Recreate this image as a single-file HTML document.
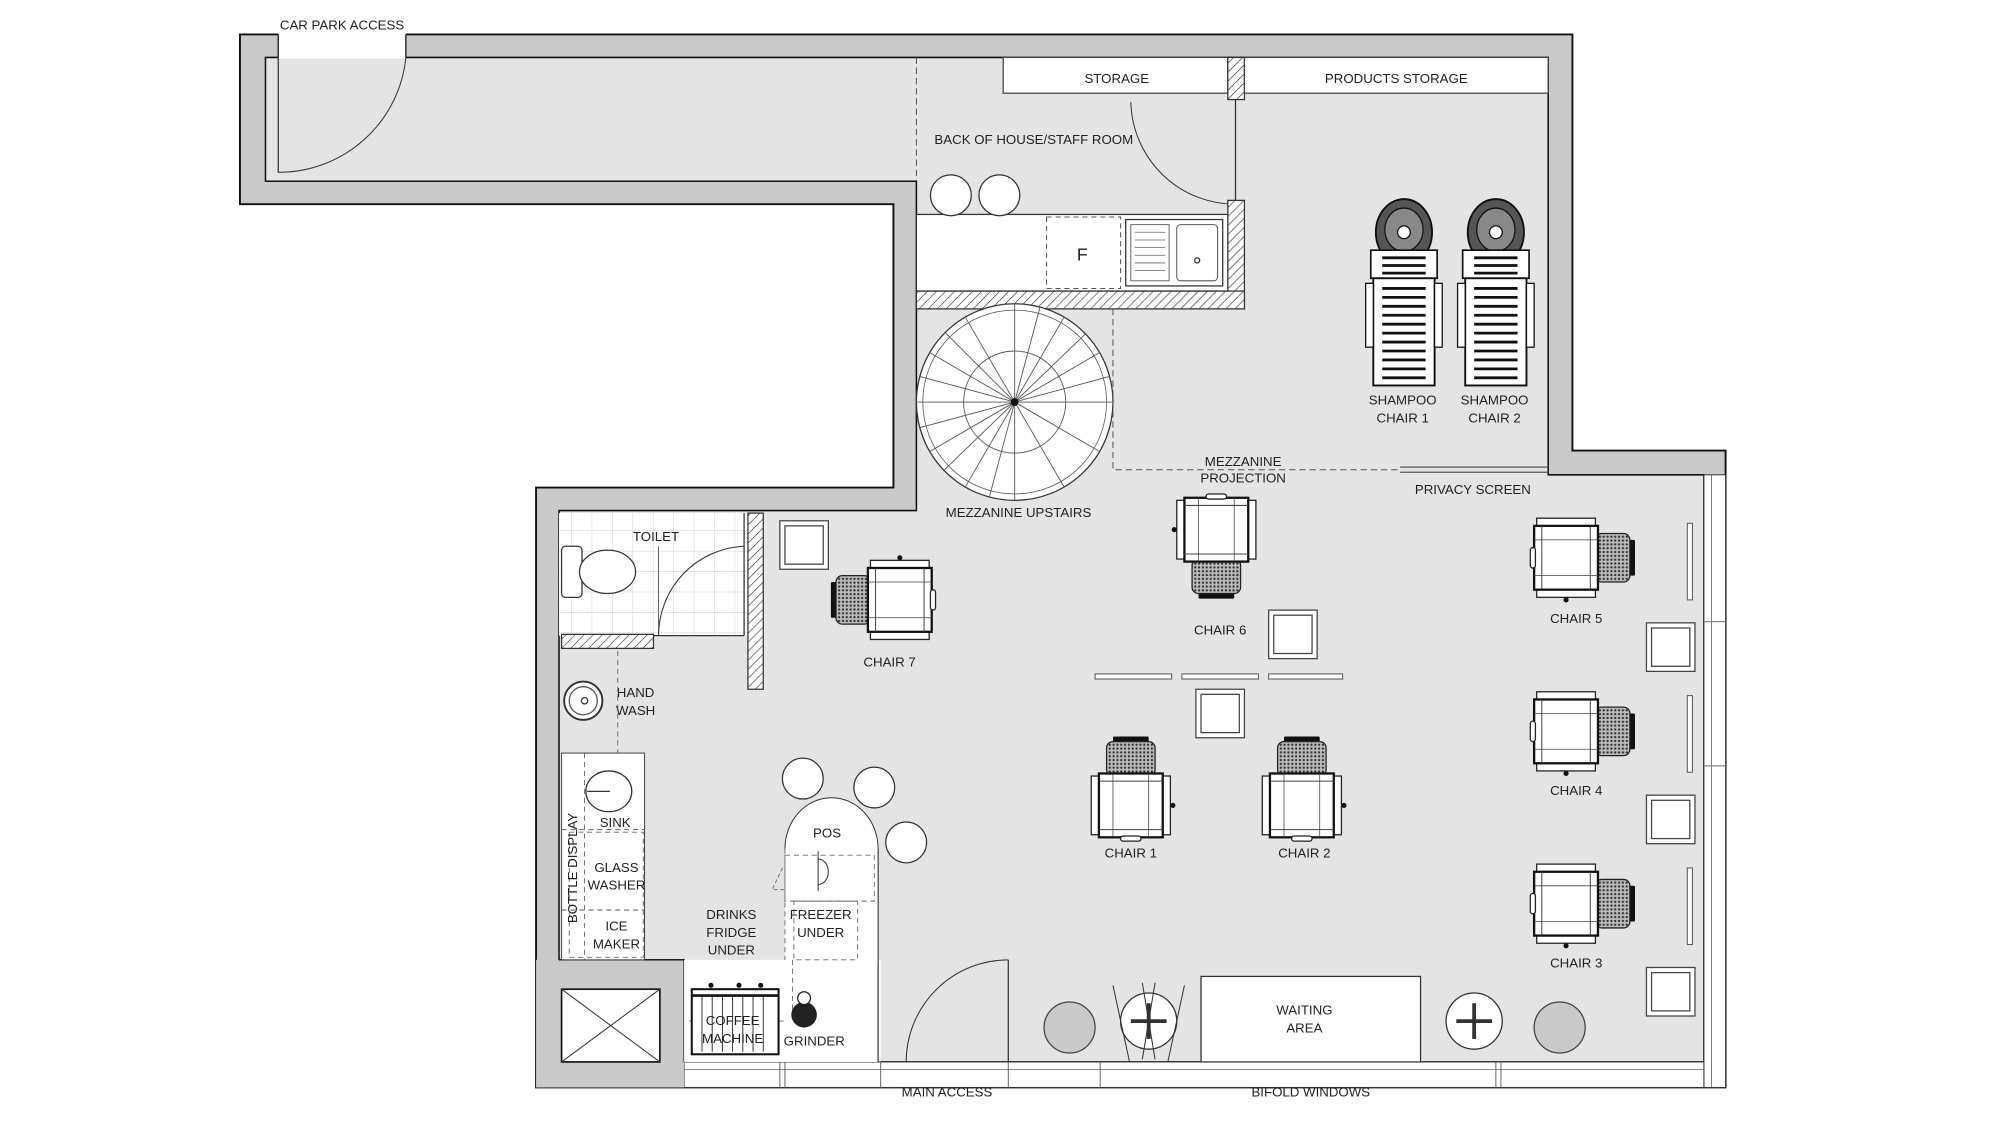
<!DOCTYPE html>
<html><head><meta charset="utf-8"><style>
html,body{margin:0;padding:0;background:#fff;}
svg{display:block;}
text{font-family:"Liberation Sans",sans-serif;font-size:10.4px;fill:#222;text-anchor:middle;}
</style></head><body>
<svg width="2000" height="1125" viewBox="0 0 1567 881.4" preserveAspectRatio="none" xmlns="http://www.w3.org/2000/svg">
<defs>
<pattern id="hatch" width="5" height="5" patternUnits="userSpaceOnUse" patternTransform="rotate(45)">
<rect width="5" height="5" fill="#fff"/><line x1="0" y1="0" x2="0" y2="5" stroke="#333" stroke-width="1"/></pattern>
<pattern id="mesh" width="3" height="3" patternUnits="userSpaceOnUse">
<rect width="3" height="3" fill="#bbb"/><circle cx="1.5" cy="1.5" r="0.9" fill="#333"/></pattern>
<pattern id="tile" width="16" height="16" patternUnits="userSpaceOnUse">
<rect width="16" height="16" fill="#fff"/><path d="M16 0V16H0" fill="none" stroke="#ccc" stroke-width="0.7"/></pattern>
<g id="chair">
<rect x="-14" y="-41" width="28" height="5" rx="1" fill="#111"/>
<rect x="-19" y="-37" width="38" height="27" rx="5" fill="url(#mesh)" stroke="#222" stroke-width="1"/>
<rect x="-31" y="-10" width="8" height="46" fill="#fff" stroke="#222" stroke-width="1"/>
<rect x="23" y="-10" width="8" height="46" fill="#fff" stroke="#222" stroke-width="1"/>
<rect x="-25" y="-12" width="50" height="50" fill="#fff" stroke="#111" stroke-width="1.8"/>
<line x1="-25" y1="-6" x2="25" y2="-6" stroke="#444" stroke-width="0.8"/>
<line x1="-25" y1="32" x2="25" y2="32" stroke="#444" stroke-width="0.8"/>
<line x1="-14" y1="-12" x2="-14" y2="38" stroke="#444" stroke-width="0.6"/>
<line x1="14" y1="-12" x2="14" y2="38" stroke="#444" stroke-width="0.6"/>
<rect x="-8" y="37" width="16" height="4" rx="2" fill="#fff" stroke="#222"/>
<circle cx="33" cy="13" r="2" fill="#111"/>
</g>
<g id="shampoo">
<ellipse cx="0" cy="0" rx="22" ry="26" fill="#555" stroke="#111" stroke-width="1.5"/>
<ellipse cx="0" cy="-2" rx="15" ry="17" fill="#888" stroke="#111"/>
<circle cx="0" cy="0" r="5" fill="#fff" stroke="#111"/>
<rect x="-26" y="14" width="52" height="22" fill="#fff" stroke="#111" stroke-width="1.3"/>
<rect x="-24" y="36" width="48" height="84" fill="#fff" stroke="#111" stroke-width="1.5"/>
<rect x="-30" y="40" width="6" height="50" fill="#fff" stroke="#111"/>
<rect x="24" y="40" width="6" height="50" fill="#fff" stroke="#111"/>
<g stroke="#111" stroke-width="2.2">
<line x1="-17" y1="20" x2="17" y2="20"/><line x1="-17" y1="26" x2="17" y2="26"/><line x1="-17" y1="32" x2="17" y2="32"/>
<line x1="-17" y1="44" x2="17" y2="44"/><line x1="-17" y1="51" x2="17" y2="51"/><line x1="-17" y1="58" x2="17" y2="58"/>
<line x1="-17" y1="65" x2="17" y2="65"/><line x1="-17" y1="72" x2="17" y2="72"/><line x1="-17" y1="79" x2="17" y2="79"/>
<line x1="-17" y1="86" x2="17" y2="86"/><line x1="-17" y1="93" x2="17" y2="93"/><line x1="-17" y1="100" x2="17" y2="100"/>
<line x1="-17" y1="107" x2="17" y2="107"/><line x1="-17" y1="114" x2="17" y2="114"/>
</g>
</g>
<g id="sqtable">
<rect x="0" y="0" width="38" height="38" fill="#fff" stroke="#444" stroke-width="1"/>
<rect x="4" y="4" width="30" height="30" fill="#fff" stroke="#444" stroke-width="1"/>
</g>
</defs>

<rect width="1567" height="881.4" fill="#fff"/>
<polygon points="188,27 1232,27 1232,353 1352,353 1352,852 420,852 420,382 700,382 700,160 188,160" fill="#c9c9c9" stroke="#111" stroke-width="1.5"/>
<polygon points="208,45 1213,45 1213,372 1335,372 1335,832 536,832 536,752 438,752 438,400 718,400 718,142 208,142" fill="#e4e4e4" stroke="#111" stroke-width="1.2"/>
<rect x="218" y="26" width="100" height="20" fill="#fff"/>
<line x1="218" y1="27" x2="218" y2="45" stroke="#111"/><line x1="318" y1="27" x2="318" y2="45" stroke="#111"/>
<path d="M318 45 A100 100 0 0 1 218 135" fill="none" stroke="#333" stroke-width="0.8"/>
<line x1="218" y1="45" x2="218" y2="135" stroke="#333" stroke-width="1"/>
<rect x="1335" y="372" width="17" height="480" fill="#fff" stroke="#333" stroke-width="0.8"/>
<line x1="1341" y1="372" x2="1341" y2="852" stroke="#555" stroke-width="0.6"/>
<line x1="1335" y1="487" x2="1352" y2="487" stroke="#888"/><line x1="1335" y1="600" x2="1352" y2="600" stroke="#888"/>
<rect x="536" y="832" width="799" height="20" fill="#fff" stroke="#333" stroke-width="0.8"/>
<line x1="536" y1="838" x2="1335" y2="838" stroke="#666" stroke-width="0.6"/>
<g stroke="#666" stroke-width="0.8">
<line x1="611" y1="832" x2="611" y2="852"/><line x1="615" y1="832" x2="615" y2="852"/>
<line x1="690" y1="832" x2="690" y2="852"/><line x1="790" y1="832" x2="790" y2="852"/>
<line x1="862" y1="832" x2="862" y2="852"/><line x1="1172" y1="832" x2="1172" y2="852"/><line x1="1176" y1="832" x2="1176" y2="852"/>
</g>
<rect x="420" y="752" width="116" height="100" fill="#c9c9c9"/>
<line x1="438" y1="752" x2="536" y2="752" stroke="#111"/><line x1="536" y1="752" x2="536" y2="832" stroke="#111"/>
<rect x="440" y="775" width="77" height="57" fill="#fff" stroke="#111" stroke-width="1.3"/>
<line x1="440" y1="775" x2="517" y2="832" stroke="#333" stroke-width="0.8"/><line x1="517" y1="775" x2="440" y2="832" stroke="#333" stroke-width="0.8"/>

<rect x="786" y="45" width="176" height="28" fill="#fff" stroke="#444"/>
<rect x="962" y="45" width="13" height="33" fill="url(#hatch)" stroke="#333"/>
<rect x="975" y="45" width="238" height="28" fill="#fff" stroke="#444"/>
<text x="875" y="65">STORAGE</text>
<text x="1094" y="65">PRODUCTS STORAGE</text>
<line x1="718" y1="45" x2="718" y2="142" stroke="#555" stroke-dasharray="5,3" stroke-width="0.8"/>
<text x="810" y="113">BACK OF HOUSE/STAFF ROOM</text>
<line x1="968" y1="78" x2="968" y2="160" stroke="#333"/>
<path d="M886 80 A82 82 0 0 0 968 160" fill="none" stroke="#333" stroke-width="0.8"/>
<rect x="962" y="157" width="13" height="85" fill="url(#hatch)" stroke="#333"/>
<rect x="718" y="228" width="257" height="14" fill="url(#hatch)" stroke="#333"/>
<rect x="718" y="168" width="244" height="60" fill="#fff" stroke="#333"/>
<rect x="820" y="170" width="58" height="56" fill="none" stroke="#555" stroke-dasharray="4,3" stroke-width="0.8"/>
<text x="848" y="204" style="font-size:14px">F</text>
<rect x="882" y="172" width="76" height="52" fill="#fff" stroke="#333"/>
<rect x="886" y="176" width="30" height="44" fill="#fff" stroke="#555" stroke-width="0.7"/>
<g stroke="#666" stroke-width="0.6"><line x1="889" y1="182" x2="913" y2="182"/><line x1="889" y1="188" x2="913" y2="188"/><line x1="889" y1="194" x2="913" y2="194"/><line x1="889" y1="200" x2="913" y2="200"/><line x1="889" y1="206" x2="913" y2="206"/><line x1="889" y1="212" x2="913" y2="212"/></g>
<rect x="922" y="176" width="32" height="44" rx="3" fill="#fff" stroke="#555" stroke-width="0.8"/>
<circle cx="938" cy="204" r="2" fill="none" stroke="#333"/>
<circle cx="745" cy="153" r="16" fill="#fff" stroke="#333"/>
<circle cx="783" cy="153" r="16" fill="#fff" stroke="#333"/>
<circle cx="795" cy="315" r="77" fill="#fff" stroke="#333" stroke-width="1"/>
<circle cx="795" cy="315" r="72" fill="none" stroke="#555" stroke-width="0.6"/>
<g stroke="#555" stroke-width="0.7">
<line x1="795" y1="315" x2="795" y2="238"/><line x1="795" y1="315" x2="834" y2="248"/><line x1="795" y1="315" x2="862" y2="276"/>
<line x1="795" y1="315" x2="872" y2="315"/><line x1="795" y1="315" x2="862" y2="354"/><line x1="795" y1="315" x2="834" y2="382"/>
<line x1="795" y1="315" x2="795" y2="392"/><line x1="795" y1="315" x2="756" y2="382"/><line x1="795" y1="315" x2="728" y2="354"/>
<line x1="795" y1="315" x2="718" y2="315"/><line x1="795" y1="315" x2="728" y2="276"/><line x1="795" y1="315" x2="756" y2="248"/>
<line x1="795" y1="315" x2="815" y2="240"/><line x1="795" y1="315" x2="851" y2="261"/><line x1="795" y1="315" x2="869" y2="295"/>
<line x1="795" y1="315" x2="775" y2="390"/><line x1="795" y1="315" x2="739" y2="369"/><line x1="795" y1="315" x2="721" y2="335"/>
<line x1="795" y1="315" x2="741" y2="261"/><line x1="795" y1="315" x2="721" y2="295"/>
</g>
<circle cx="795" cy="315" r="40" fill="none" stroke="#555" stroke-width="0.7"/>
<circle cx="795" cy="315" r="3" fill="#111"/>
<text x="798" y="405">MEZZANINE UPSTAIRS</text>
<polyline points="872,242 872,368 1097,368" fill="none" stroke="#555" stroke-dasharray="5,3" stroke-width="0.8"/>
<text x="974" y="365">MEZZANINE</text>
<text x="974" y="378">PROJECTION</text>
<line x1="1097" y1="366" x2="1213" y2="366" stroke="#555"/><line x1="1097" y1="370" x2="1213" y2="370" stroke="#555"/>
<text x="1154" y="387">PRIVACY SCREEN</text>
<use href="#shampoo" x="1100" y="182"/>
<use href="#shampoo" x="1172" y="182"/>
<text x="1099" y="317">SHAMPOO</text><text x="1099" y="331">CHAIR 1</text>
<text x="1171" y="317">SHAMPOO</text><text x="1171" y="331">CHAIR 2</text>

<rect x="438" y="402" width="148" height="96" fill="url(#tile)"/>
<rect x="440" y="497" width="72" height="11" fill="url(#hatch)" stroke="#333"/>
<rect x="586" y="402" width="12" height="138" fill="url(#hatch)" stroke="#333"/>
<line x1="583" y1="402" x2="583" y2="498" stroke="#333"/>
<line x1="512" y1="498" x2="583" y2="498" stroke="#333"/>
<path d="M583 428 A70 70 0 0 0 516 498" fill="none" stroke="#333" stroke-width="0.8"/>
<line x1="516" y1="428" x2="516" y2="498" stroke="#333" stroke-width="0.6"/>
<rect x="440" y="428" width="16" height="40" rx="3" fill="#fff" stroke="#333"/>
<ellipse cx="476" cy="448" rx="22" ry="17" fill="#fff" stroke="#333"/>
<text x="514" y="424">TOILET</text>
<circle cx="457" cy="549" r="15" fill="#fff" stroke="#333" stroke-width="1.5"/>
<circle cx="457" cy="549" r="11" fill="#fff" stroke="#555"/>
<circle cx="458" cy="549" r="2.5" fill="none" stroke="#333"/>
<text x="498" y="546">HAND</text><text x="498" y="560">WASH</text>
<line x1="484" y1="510" x2="484" y2="590" stroke="#666" stroke-dasharray="4,3" stroke-width="0.7"/>
<rect x="440" y="590" width="65" height="162" fill="#fff" stroke="#444" stroke-width="0.8"/>
<line x1="440" y1="650" x2="505" y2="650" stroke="#666" stroke-dasharray="4,3" stroke-width="0.8"/>
<line x1="440" y1="713" x2="505" y2="713" stroke="#666" stroke-dasharray="4,3" stroke-width="0.8"/>
<line x1="458" y1="590" x2="458" y2="752" stroke="#666" stroke-dasharray="4,3" stroke-width="0.7"/>
<rect x="446" y="652" width="58" height="98" fill="none" stroke="#666" stroke-dasharray="4,3" stroke-width="0.7"/>
<ellipse cx="477" cy="620" rx="18" ry="16" fill="#fff" stroke="#333"/>
<line x1="460" y1="620" x2="478" y2="620" stroke="#333"/>
<text x="482" y="648">SINK</text>
<text x="483" y="683">GLASS</text><text x="483" y="697">WASHER</text>
<text x="483" y="729">ICE</text><text x="483" y="743">MAKER</text>
<text x="452" y="680" transform="rotate(-90 452 680)">BOTTLE DISPLAY</text>
<rect x="536" y="752" width="154" height="80" fill="#fff"/>
<path d="M615 665 A36.5 40 0 0 1 688 665 L688 832 L690 832" fill="#fff" stroke="#333" stroke-width="0.8"/>
<rect x="615" y="665" width="73" height="90" fill="#fff"/>
<line x1="688" y1="665" x2="688" y2="832" stroke="#333" stroke-width="0.8"/>
<rect x="615" y="670" width="70" height="36" fill="none" stroke="#666" stroke-dasharray="4,3" stroke-width="0.7"/>
<rect x="622" y="706" width="50" height="46" fill="none" stroke="#666" stroke-dasharray="4,3" stroke-width="0.7"/>
<line x1="615" y1="665" x2="615" y2="752" stroke="#666" stroke-dasharray="4,3" stroke-width="0.7"/>
<polyline points="613,680 605,697 615,697" fill="none" stroke="#666" stroke-dasharray="3,2" stroke-width="0.7"/>
<path d="M641 673 A8 10 0 0 1 641 693" fill="#fff" stroke="#333" stroke-width="0.8"/>
<line x1="641" y1="667" x2="641" y2="698" stroke="#333" stroke-width="0.8"/>
<text x="648" y="656">POS</text>
<text x="643" y="720">FREEZER</text><text x="643" y="734">UNDER</text>
<text x="573" y="720">DRINKS</text><text x="573" y="734">FRIDGE</text><text x="573" y="748">UNDER</text>
<line x1="540" y1="800" x2="615" y2="800" stroke="#666" stroke-dasharray="4,3" stroke-width="0.7"/>
<line x1="621" y1="752" x2="621" y2="800" stroke="#666" stroke-dasharray="4,3" stroke-width="0.7"/>
<rect x="542" y="775" width="68" height="51" fill="#fff" stroke="#111" stroke-width="1.6"/>
<g stroke="#222" stroke-width="0.7"><line x1="550" y1="780" x2="550" y2="824"/><line x1="558" y1="780" x2="558" y2="824"/><line x1="566" y1="780" x2="566" y2="824"/><line x1="574" y1="780" x2="574" y2="824"/><line x1="582" y1="780" x2="582" y2="824"/><line x1="590" y1="780" x2="590" y2="824"/><line x1="598" y1="780" x2="598" y2="824"/></g>
<line x1="542" y1="780" x2="610" y2="780" stroke="#111" stroke-width="2"/>
<circle cx="557" cy="772" r="2" fill="#111"/><circle cx="579" cy="772" r="2" fill="#111"/><circle cx="596" cy="772" r="2" fill="#111"/>
<text x="574" y="803">COFFEE</text><text x="574" y="817">MACHINE</text>
<circle cx="630" cy="795" r="10" fill="#222"/><circle cx="630" cy="782" r="5" fill="#fff" stroke="#222"/>
<text x="638" y="819">GRINDER</text>
<circle cx="629" cy="610" r="16" fill="#fff" stroke="#333"/>
<circle cx="685" cy="617" r="16" fill="#fff" stroke="#333"/>
<circle cx="710" cy="660" r="16" fill="#fff" stroke="#333"/>
<line x1="790" y1="752" x2="790" y2="832" stroke="#333"/>
<path d="M790 752 A80 80 0 0 0 710 832" fill="none" stroke="#333" stroke-width="0.8"/>
<text x="742" y="859">MAIN ACCESS</text>
<text x="1027" y="859">BIFOLD WINDOWS</text>
<rect x="941" y="765" width="172" height="67" fill="#fff" stroke="#333"/>
<text x="1022" y="795">WAITING</text><text x="1022" y="809">AREA</text>
<circle cx="838" cy="805" r="20" fill="#c9c9c9" stroke="#444"/>
<circle cx="1222" cy="805" r="20" fill="#c9c9c9" stroke="#444"/>
<circle cx="900" cy="800" r="22" fill="#fff" stroke="#333"/>
<line x1="900" y1="786" x2="900" y2="814" stroke="#333" stroke-width="3"/><line x1="886" y1="800" x2="914" y2="800" stroke="#333" stroke-width="3"/>
<g stroke="#333" stroke-width="0.8" fill="none"><path d="M872 772 L885 832"/><path d="M928 772 L915 832"/><path d="M895 770 L905 830"/><path d="M905 770 L895 830"/></g>
<circle cx="1155" cy="800" r="22" fill="#fff" stroke="#333"/>
<line x1="1155" y1="786" x2="1155" y2="814" stroke="#333" stroke-width="3"/><line x1="1141" y1="800" x2="1169" y2="800" stroke="#333" stroke-width="3"/>
<use href="#sqtable" x="611" y="408"/>
<use href="#sqtable" x="994" y="478"/>
<use href="#sqtable" x="937" y="540"/>
<use href="#sqtable" x="1290" y="488"/>
<use href="#sqtable" x="1290" y="623"/>
<use href="#sqtable" x="1290" y="758"/>
<g fill="#fff" stroke="#555" stroke-width="0.8">
<rect x="858" y="528" width="60" height="4"/><rect x="926" y="528" width="60" height="4"/><rect x="994" y="528" width="58" height="4"/>
<rect x="1322" y="410" width="4" height="60"/><rect x="1322" y="545" width="4" height="60"/><rect x="1322" y="680" width="4" height="60"/>
</g>
<use href="#chair" transform="translate(886,618)"/>
<use href="#chair" transform="translate(1020,618)"/>
<use href="#chair" transform="translate(953,428) rotate(180)"/>
<use href="#chair" transform="translate(692,470) rotate(-90)"/>
<use href="#chair" transform="translate(1240,437) rotate(90)"/>
<use href="#chair" transform="translate(1240,573) rotate(90)"/>
<use href="#chair" transform="translate(1240,708) rotate(90)"/>
<text x="956" y="497">CHAIR 6</text>
<text x="697" y="522">CHAIR 7</text>
<text x="886" y="672">CHAIR 1</text>
<text x="1022" y="672">CHAIR 2</text>
<text x="1235" y="488">CHAIR 5</text>
<text x="1235" y="623">CHAIR 4</text>
<text x="1235" y="758">CHAIR 3</text>
<text x="268" y="23">CAR PARK ACCESS</text>
</svg>
</body></html>
